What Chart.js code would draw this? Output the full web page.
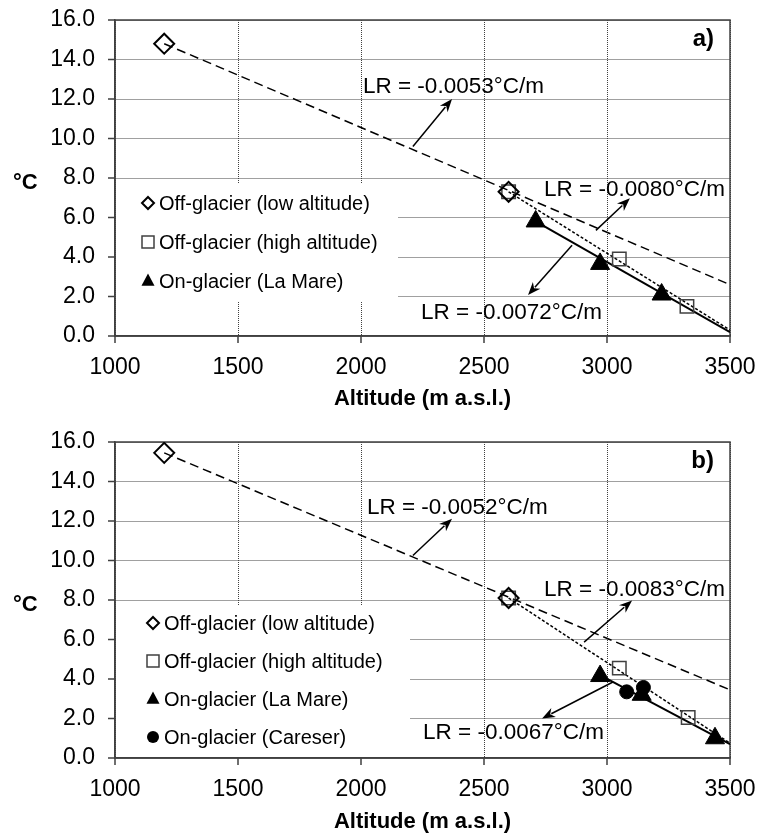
<!DOCTYPE html>
<html>
<head>
<meta charset="utf-8">
<script src="https://cdn.jsdelivr.net/npm/chart.js@4.4.1/dist/chart.umd.min.js"></script>
<style>
  body { margin: 0; background: #fff; }
  canvas { display: block; }
</style>
</head>
<body>
<canvas id="chartA" width="759" height="410"></canvas>
<canvas id="chartB" width="759" height="423"></canvas>
<script>
// panel a)
const lowAltA  = [{x: 1200, y: 14.8}, {x: 2600, y: 7.3}];
const highAltA = [{x: 2600, y: 7.3}, {x: 3050, y: 3.9}, {x: 3325, y: 1.5}];
const laMareA  = [{x: 2710, y: 5.8}, {x: 2972, y: 3.65}, {x: 3222, y: 2.1}];
const trendLowA  = [{x: 1200, y: 14.8}, {x: 3500, y: 2.6}];
const trendHighA = [{x: 2600, y: 7.3}, {x: 3500, y: 0.3}];
const trendOnA   = [{x: 2710, y: 5.8}, {x: 3500, y: 0.2}];
const lrTextA = ['LR = -0.0053°C/m', 'LR = -0.0080°C/m', 'LR = -0.0072°C/m'];

// panel b)
const lowAltB  = [{x: 1200, y: 15.45}, {x: 2600, y: 8.1}];
const highAltB = [{x: 2600, y: 8.1}, {x: 3050, y: 4.55}, {x: 3330, y: 2.05}];
const laMareB  = [{x: 2972, y: 4.15}, {x: 3141, y: 3.2}, {x: 3439, y: 1.0}];
const careserB = [{x: 3080, y: 3.35}, {x: 3148, y: 3.57}];
const trendLowB  = [{x: 1200, y: 15.45}, {x: 3500, y: 3.45}];
const trendHighB = [{x: 2600, y: 8.1}, {x: 3500, y: 0.75}];
const trendOnB   = [{x: 2972, y: 4.2}, {x: 3500, y: 0.7}];
const lrTextB = ['LR = -0.0052°C/m', 'LR = -0.0083°C/m', 'LR = -0.0067°C/m'];

const xTicks = [1000, 1500, 2000, 2500, 3000, 3500];
const yTicks = [0, 2, 4, 6, 8, 10, 12, 14, 16];
const seriesNames = ['Off-glacier (low altitude)', 'Off-glacier (high altitude)',
                     'On-glacier (La Mare)', 'On-glacier (Careser)'];

const FONT = "'Liberation Sans', Arial, sans-serif";
Chart.defaults.font.family = FONT;
Chart.defaults.color = '#000';

const AXIS = '#404040';

// marker styles (plot and legend)
const styles = {
  diamond:  {pointStyle: 'rectRot', radius: 10, legendR: 6, fill: 'rgba(0,0,0,0)', stroke: '#000', bw: 2},
  square:   {pointStyle: 'rect', radius: 9.5, legendR: 6, fill: 'rgba(0,0,0,0)', stroke: '#404040', bw: 1.5},
  triangle: {pointStyle: 'triangle', radius: 11, legendR: 7.5, fill: '#000', stroke: '#000', bw: 1},
  circle:   {pointStyle: 'circle', radius: 7, legendR: 6, fill: '#000', stroke: '#000', bw: 1}
};

function markerSet(label, data, st) {
  return {
    label: label, data: data, showLine: false,
    pointStyle: st.pointStyle, pointRadius: st.radius,
    pointBackgroundColor: st.fill, pointBorderColor: st.stroke, pointBorderWidth: st.bw,
    legendStyle: st
  };
}

function trendSet(data, dash, width) {
  return {
    data: data, showLine: true, pointRadius: 0,
    borderColor: '#000', borderWidth: width, borderDash: dash, fill: false
  };
}

function drawSymbol(ctx, st, x, y) {
  const r = st.legendR;
  ctx.save();
  ctx.fillStyle = st.fill;
  ctx.strokeStyle = st.stroke;
  ctx.lineWidth = st.bw;
  ctx.beginPath();
  if (st.pointStyle === 'rectRot') {
    ctx.moveTo(x, y - r); ctx.lineTo(x + r, y); ctx.lineTo(x, y + r); ctx.lineTo(x - r, y); ctx.closePath();
    ctx.stroke();
  } else if (st.pointStyle === 'rect') {
    ctx.rect(x - r, y - r, 2 * r, 2 * r);
    ctx.stroke();
  } else if (st.pointStyle === 'triangle') {
    ctx.moveTo(x, y - r); ctx.lineTo(x + r * 0.87, y + r * 0.5 + 1); ctx.lineTo(x - r * 0.87, y + r * 0.5 + 1); ctx.closePath();
    ctx.fill();
  } else {
    ctx.arc(x, y, r, 0, Math.PI * 2);
    ctx.fill();
  }
  ctx.restore();
}

function arrow(ctx, x1, y1, x2, y2) {
  const dx = x2 - x1, dy = y2 - y1, len = Math.hypot(dx, dy);
  const ux = dx / len, uy = dy / len;
  const hl = 13, hw = 5;
  ctx.beginPath();
  ctx.moveTo(x1, y1);
  ctx.lineTo(x2 - ux * hl * 0.8, y2 - uy * hl * 0.8);
  ctx.stroke();
  ctx.beginPath();
  ctx.moveTo(x2, y2);
  ctx.lineTo(x2 - ux * hl - uy * hw, y2 - uy * hl + ux * hw);
  ctx.lineTo(x2 - ux * hl * 0.7, y2 - uy * hl * 0.7);
  ctx.lineTo(x2 - ux * hl + uy * hw, y2 - uy * hl - ux * hw);
  ctx.closePath();
  ctx.fill();
}

function makeDecor(cfg) {
  return {
    id: 'decor',
    beforeDatasetsDraw(chart) {
      const {ctx, chartArea: a} = chart;
      const xs = chart.scales.x, ys = chart.scales.y;
      const L = cfg.legend;
      ctx.save();
      ctx.fillStyle = '#fff';
      ctx.fillRect(L.x, L.y, L.w, L.h);
      ctx.font = '20px ' + FONT;
      ctx.textBaseline = 'middle';
      ctx.textAlign = 'left';
      let row = 0;
      chart.data.datasets.forEach(ds => {
        if (!ds.legendStyle) return;
        const y = L.rowY0 + row * L.rowGap;
        drawSymbol(ctx, ds.legendStyle, L.symX, y);
        ctx.fillStyle = '#000';
        ctx.fillText(ds.label, L.textX, y + 1);
        row++;
      });
      // frame and short outside tick marks
      ctx.strokeStyle = AXIS;
      ctx.lineWidth = 1.5;
      ctx.strokeRect(a.left, a.top, a.width, a.height);
      ctx.beginPath();
      xTicks.forEach(v => {
        const px = xs.getPixelForValue(v);
        ctx.moveTo(px, a.bottom); ctx.lineTo(px, a.bottom + 7);
      });
      yTicks.forEach(v => {
        const py = ys.getPixelForValue(v);
        ctx.moveTo(a.left - 7, py); ctx.lineTo(a.left, py);
      });
      ctx.stroke();
      ctx.restore();
    },
    afterDatasetsDraw(chart) {
      const {ctx, chartArea: a} = chart;
      const xs = chart.scales.x, ys = chart.scales.y;
      ctx.save();
      ctx.strokeStyle = '#000';
      ctx.fillStyle = '#000';
      ctx.lineWidth = 1.5;
      cfg.arrows.forEach(ar => {
        arrow(ctx, xs.getPixelForValue(ar[0]), ys.getPixelForValue(ar[1]),
                   xs.getPixelForValue(ar[2]), ys.getPixelForValue(ar[3]));
      });
      ctx.font = '22.5px ' + FONT;
      ctx.textBaseline = 'middle';
      ctx.textAlign = 'left';
      cfg.texts.forEach((t, i) => {
        const p = cfg.textPos[i];
        ctx.fillText(t, xs.getPixelForValue(p[0]), ys.getPixelForValue(p[1]));
      });
      ctx.font = 'bold 24px ' + FONT;
      ctx.textAlign = 'right';
      ctx.fillText(cfg.letter, a.right - 16, a.top + 19);
      ctx.font = 'bold 22px ' + FONT;
      ctx.textAlign = 'left';
      ctx.fillText('°C', 13, ys.getPixelForValue(8) + 5);
      ctx.restore();
    }
  };
}

function makeChart(id, datasets, cfg, padTop, plotBottom, canvasH) {
  const ctx = document.getElementById(id).getContext('2d');
  return new Chart(ctx, {
    type: 'scatter',
    data: {datasets: datasets},
    options: {
      responsive: false,
      animation: false,
      layout: {padding: {left: 0, right: 29, top: padTop, bottom: 0}},
      plugins: {legend: {display: false}, tooltip: {enabled: false}},
      scales: {
        x: {
          type: 'linear', min: 1000, max: 3500,
          afterBuildTicks: s => { s.ticks = xTicks.map(v => ({value: v})); },
          afterFit: s => { s.height = canvasH - plotBottom; },
          ticks: {font: {size: 23}, color: '#000', padding: 0, callback: v => String(v), maxRotation: 0},
          grid: {color: '#404040', lineWidth: 1, tickLength: 18, tickColor: 'rgba(0,0,0,0)'},
          border: {color: AXIS, width: 1.5, dash: [1, 1]},
          title: {display: true, text: 'Altitude (m a.s.l.)', font: {size: 22, weight: 'bold', lineHeight: 1}, color: '#000', padding: {top: 0, bottom: 0}}
        },
        y: {
          type: 'linear', min: 0, max: 16,
          afterBuildTicks: s => { s.ticks = yTicks.map(v => ({value: v})); },
          afterFit: s => { s.width = 115; },
          ticks: {font: {size: 23}, color: '#000', padding: 0, callback: v => v.toFixed(1)},
          grid: {color: '#404040', lineWidth: 1, tickLength: 20, tickColor: 'rgba(0,0,0,0)'},
          border: {color: AXIS, width: 1.5, dash: [1, 1]}
        }
      }
    },
    plugins: [makeDecor(cfg)]
  });
}

makeChart('chartA', [
  markerSet(seriesNames[0], lowAltA, styles.diamond),
  markerSet(seriesNames[1], highAltA, styles.square),
  markerSet(seriesNames[2], laMareA, styles.triangle),
  trendSet(trendOnA, [], 2),
  trendSet(trendHighA, [3, 2], 1.5),
  trendSet(trendLowA, [9, 5], 1.5)
], {
  letter: 'a)',
  texts: lrTextA,
  textPos: [[2008, 12.6], [2744, 7.4], [2244, 1.2]],
  arrows: [[2211, 9.6, 2370, 12.0], [2955, 5.35, 3093, 6.97], [2858, 4.6, 2679, 2.07]],
  legend: {x: 116, y: 183, w: 282, h: 119, rowY0: 203, rowGap: 39, symX: 148, textX: 159}
}, 20, 336, 410);

makeChart('chartB', [
  markerSet(seriesNames[0], lowAltB, styles.diamond),
  markerSet(seriesNames[1], highAltB, styles.square),
  markerSet(seriesNames[2], laMareB, styles.triangle),
  markerSet(seriesNames[3], careserB, styles.circle),
  trendSet(trendOnB, [], 2),
  trendSet(trendHighB, [3, 2], 1.5),
  trendSet(trendLowB, [9, 5], 1.5)
], {
  letter: 'b)',
  texts: lrTextB,
  textPos: [[2024, 12.68], [2744, 8.53], [2252, 1.28]],
  arrows: [[2211, 10.25, 2370, 12.12], [2907, 5.87, 3102, 7.98], [3024, 3.85, 2736, 2.0]],
  legend: {x: 116, y: 195, w: 294, h: 152, rowY0: 213, rowGap: 38, symX: 153, textX: 164}
}, 32, 348, 423);
</script>
</body>
</html>
